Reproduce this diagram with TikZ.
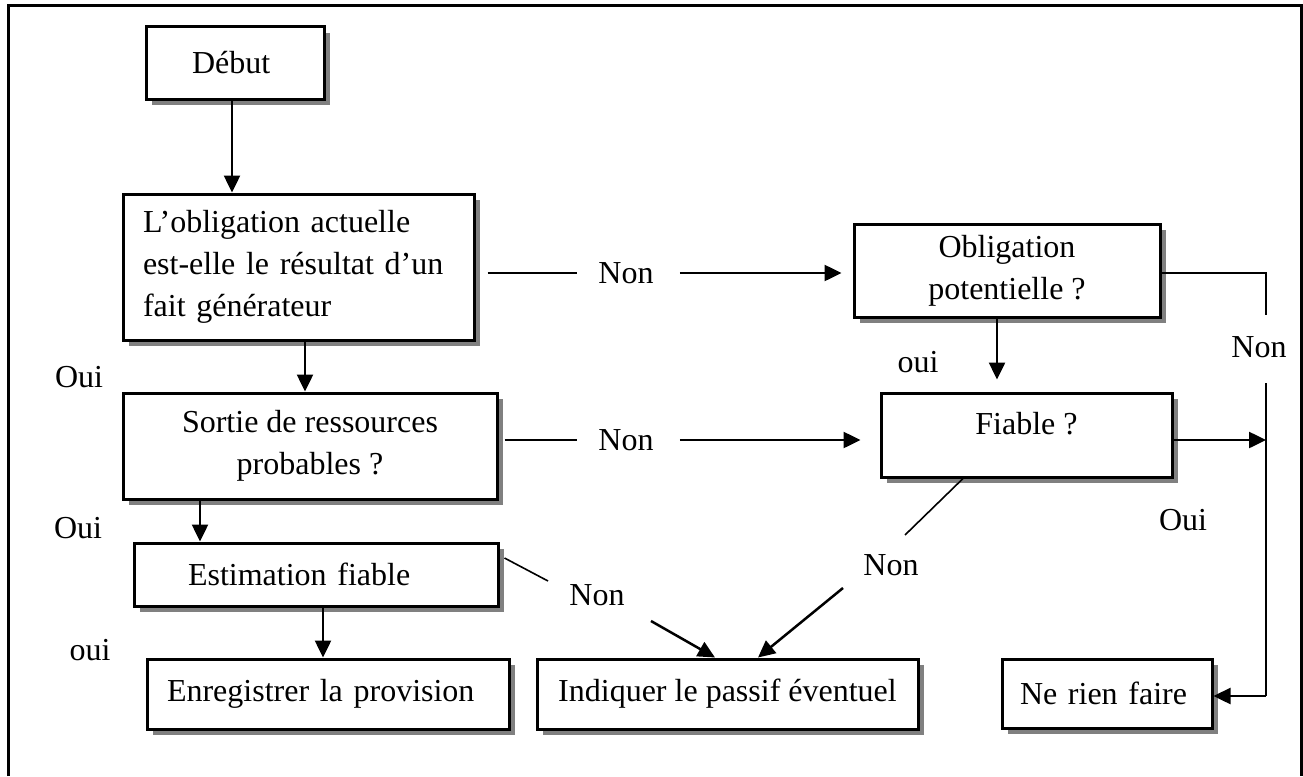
\documentclass[tikz,border=0pt]{standalone}
\usepackage{fontspec}
\setmainfont{Liberation Serif}
\usetikzlibrary{arrows.meta,shadows,calc}
\definecolor{shadowgray}{RGB}{128,128,128}
\begin{document}
\begin{tikzpicture}[x=1pt,y=-1pt,
  box/.style={draw, line width=3pt, fill=white, inner sep=0pt,
    general shadow={fill=shadowgray, shadow xshift=6pt, shadow yshift=-6pt},
    font=\fontsize{32}{42}\selectfont},
  lbl/.style={inner sep=0pt, font=\fontsize{32}{42}\selectfont},
  arr/.style={line width=2.5pt, -{Triangle[length=17pt,width=16pt]}},
  thinl/.style={line width=1.6pt},
  vline/.style={line width=2.2pt}]
\useasboundingbox (0,0) rectangle (1303,776);
% outer frame
\draw[line width=3pt] (8,776) -- (8,6) -- (1301,6) -- (1301,776);

% boxes
\node[box, minimum width=178pt, minimum height=72pt, text width=86pt, align=left] (debut) at (235,63) {Début};
\node[box, minimum width=351pt, minimum height=146pt, text width=311pt, align=left] (oblig) at (298.5,267) {L’obligation actuelle\\est-elle le résultat d’un\\fait générateur};
\node[box, minimum width=374pt, minimum height=106pt, align=center] (sortie) at (310,446) {Sortie de ressources\\probables ?};
\node[box, minimum width=364pt, minimum height=63pt, text width=256pt, align=left] (estim) at (316,574.5) {Estimation fiable};
\node[box, minimum width=362pt, minimum height=70pt, text width=322pt, align=left] (enreg) at (328,694) {Enregistrer la provision};
\node[box, minimum width=381pt, minimum height=70pt] (indiq) at (727.5,694) {Indiquer le passif éventuel};
\node[box, minimum width=210pt, minimum height=69pt, text width=174pt, align=left] (rien) at (1107,693.5) {Ne rien faire};
\node[box, minimum width=306pt, minimum height=93pt, align=center] (potent) at (1007,270.5) {Obligation\\potentielle ?};
\node[box, minimum width=291pt, minimum height=84pt, text depth=24pt] (fiable) at (1026.5,435) {Fiable ?};

% labels
\node[lbl] (nonA) at (626,273) {Non};
\node[lbl] (nonB) at (626,440) {Non};
\node[lbl] (nonC) at (1259,347) {Non};
\node[lbl] (nonD) at (597,595) {Non};
\node[lbl] (nonE) at (891,565) {Non};
\node[lbl] (oui1) at (79,377) {Oui};
\node[lbl] (oui2) at (78,528) {Oui};
\node[lbl] (oui3) at (90,650) {oui};
\node[lbl] (oui4) at (918,362) {oui};
\node[lbl] (oui5) at (1183,520) {Oui};

% free-end coordinates
\coordinate (cR) at (1266,273);
\coordinate (cB) at (1266,696);
\coordinate (d1) at (548,581);
\coordinate (d2) at (651,621);
\coordinate (e1) at (905,535);
\coordinate (e2) at (843,588);

% vertical arrows
\draw[arr] ([xshift=-3pt]debut.south) -- ([xshift=-3pt]debut.south |- oblig.north);
\draw[arr] ([xshift=6.5pt]oblig.south) -- ([xshift=6.5pt]oblig.south |- sortie.north);
\draw[arr] ([xshift=-110pt]sortie.south) -- ([xshift=-110pt]sortie.south |- estim.north);
\draw[arr] ([xshift=7pt]estim.south) -- ([xshift=7pt]estim.south |- enreg.north);
\draw[arr] ([xshift=-10pt]potent.south) -- ([xshift=-10pt,yshift=12pt]potent.south |- fiable.north);

% horizontal Non connectors
\draw[thinl] ([xshift=12pt]oblig.east |- nonA) -- ([xshift=-21pt]nonA.west);
\draw[arr] ([xshift=26pt]nonA.east) -- ([xshift=-11pt]potent.west |- nonA);
\draw[thinl] ([xshift=6pt]sortie.east |- nonB) -- ([xshift=-21pt]nonB.west);
\draw[arr] ([xshift=26pt]nonB.east) -- ([xshift=-19pt]fiable.west |- nonB);

% right side
\draw[thinl] (potent.east |- cR) -- (cR) -- ([yshift=21.5pt]nonC.north -| cR);
\draw[vline] ([yshift=-25.5pt]nonC.south -| cB) -- (cB);
\draw[arr] (cB) -- (rien.east |- cB);
\draw[arr] (fiable.east |- nonB) -- (nonB -| cB);

% diagonal Non connectors
\draw[thinl] ([xshift=5pt,yshift=16.5pt]estim.east) -- (d1);
\draw[arr] (d2) -- ([xshift=-12.5pt]indiq.north);
\draw[thinl] ([xshift=-63.5pt]fiable.south) -- (e1);
\draw[arr] (e2) -- ([xshift=30.5pt]indiq.north);
\end{tikzpicture}
\end{document}
